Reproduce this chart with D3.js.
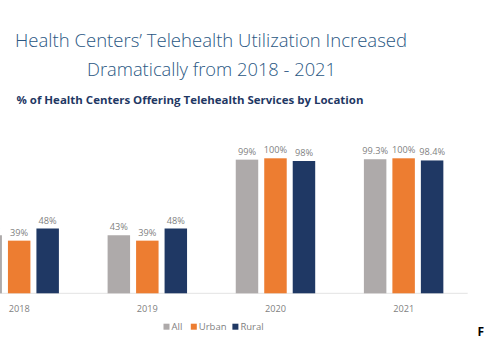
<!DOCTYPE html>
<html>
<head>
<meta charset="utf-8">
<script src="https://cdn.jsdelivr.net/npm/d3@7"></script>
<style>
  html, body { margin: 0; padding: 0; background: #fff; overflow: hidden; }
  svg { display: block; font-family: "Open Sans", "Noto Sans", sans-serif; }
</style>
</head>
<body>
<svg id="chart" width="485" height="360"></svg>
<script>
const years = ["2018", "2019", "2020", "2021"];
const seriesNames = ["All", "Urban", "Rural"];
const allValues = [43, 43, 99, 99.3];
const urbanValues = [39, 39, 100, 100];
const ruralValues = [48, 48, 98, 98.4];
const allLabels = ["43%", "43%", "99%", "99.3%"];
const urbanLabels = ["39%", "39%", "100%", "100%"];
const ruralLabels = ["48%", "48%", "98%", "98.4%"];
const colors = ["#aeaaaa", "#ed7d31", "#1f3864"];

const titleLines = ["Health Centers\u2019 Telehealth Utilization Increased", "Dramatically from 2018 - 2021"];
const subtitle = "% of Health Centers Offering Telehealth Services by Location";

const seriesValues = [allValues, urbanValues, ruralValues];
const seriesLabels = [allLabels, urbanLabels, ruralLabels];
const rows = years.map((y, i) => ({
  year: y,
  items: seriesNames.map((s, j) => ({ series: s, value: seriesValues[j][i], label: seriesLabels[j][i], color: colors[j] }))
}));

const svg = d3.select("#chart");

// Titles
svg.append("text").attr("x", 211).attr("y", 47)
  .attr("text-anchor", "middle").attr("font-size", 18.5).attr("font-weight", 300).attr("fill", "#2a5783")
  .attr("textLength", 392).attr("lengthAdjust", "spacingAndGlyphs")
  .text(titleLines[0]);
svg.append("text").attr("x", 211.5).attr("y", 76)
  .attr("text-anchor", "middle").attr("font-size", 18.5).attr("font-weight", 300).attr("fill", "#2a5783")
  .attr("textLength", 249).attr("lengthAdjust", "spacingAndGlyphs")
  .text(titleLines[1]);
svg.append("text").attr("x", 16.5).attr("y", 103.5)
  .attr("font-size", 11).attr("font-weight", "bold").attr("fill", "#1f3864")
  .attr("textLength", 347).attr("lengthAdjust", "spacingAndGlyphs")
  .text(subtitle);

// Scales
const baseY = 293.3;
const x0 = d3.scaleBand().domain(years).range([-44.9, 467.7]).paddingInner(0.38).paddingOuter(0.19);
const x1 = d3.scaleBand().domain(seriesNames).range([0, x0.bandwidth()]).paddingInner(0.211).paddingOuter(0);
const y = d3.scaleLinear().domain([0, 100]).range([baseY, 158.3]);

// Axis line
svg.append("line")
  .attr("x1", x0.range()[0]).attr("x2", x0.range()[1])
  .attr("y1", baseY).attr("y2", baseY)
  .attr("stroke", "#e3e3e3").attr("stroke-width", 1);

// Bars
const groups = svg.append("g").selectAll("g").data(rows).join("g")
  .attr("transform", d => `translate(${x0(d.year)},0)`);

groups.selectAll("rect").data(d => d.items).join("rect")
  .attr("x", d => x1(d.series))
  .attr("y", d => y(d.value))
  .attr("width", x1.bandwidth())
  .attr("height", d => baseY - y(d.value))
  .attr("fill", d => d.color);

groups.selectAll("text").data(d => d.items).join("text")
  .attr("x", d => x1(d.series) + x1.bandwidth() / 2)
  .attr("y", d => y(d.value) - 5)
  .attr("text-anchor", "middle")
  .attr("font-size", 9.2)
  .attr("fill", "#7f7f7f")
  .text(d => d.label);

// Category axis labels
const xAxis = d3.axisBottom(x0).tickSize(0).tickPadding(0);
const axisG = svg.append("g").attr("transform", `translate(0,${baseY})`).call(xAxis);
axisG.select(".domain").remove();
axisG.selectAll("text")
  .attr("dy", null).attr("y", 18.5)
  .attr("font-size", 9.2).attr("fill", "#7f7f7f")
  .attr("font-family", "\"Open Sans\", \"Noto Sans\", sans-serif");

// Legend
const legendX = [163.5, 190.8, 232.4];
const legend = svg.append("g").selectAll("g").data(seriesNames).join("g")
  .attr("transform", (d, i) => `translate(${legendX[i]},${323.7})`);
legend.append("rect").attr("width", 6).attr("height", 6).attr("fill", (d, i) => colors[i]);
legend.append("text").attr("x", 8).attr("y", 6.5).attr("font-size", 9.5).attr("fill", "#7f7f7f").text(d => d);

// Note at right edge
svg.append("text").attr("x", 477.5).attr("y", 335.5).attr("font-size", 12).attr("font-weight", "bold")
  .attr("fill", "#000").text("F");
</script>
</body>
</html>
